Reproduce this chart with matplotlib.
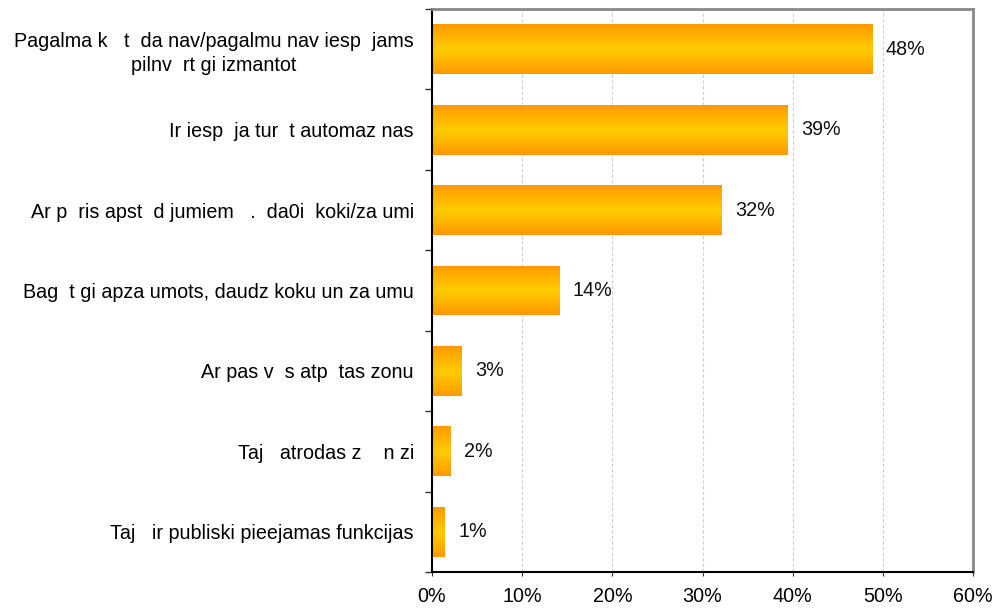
import numpy as np
import matplotlib
matplotlib.use('Agg')
import matplotlib.pyplot as plt
from matplotlib.colors import LinearSegmentedColormap

# data, top to bottom
labels = [
    'Pagalma k   t  da nav/pagalmu nav iesp  jams\npilnv  rt gi izmantot',
    'Ir iesp  ja tur  t automaz nas',
    'Ar p  ris apst  d jumiem   .  da0i  koki/za umi',
    'Bag  t gi apza umots, daudz koku un za umu',
    'Ar pas v  s atp  tas zonu',
    'Taj   atrodas z    n zi',
    'Taj   ir publiski pieejamas funkcijas',
]
values = [48.8, 39.4, 32.1, 14.1, 3.3, 2.0, 1.4]
value_labels = ['48%', '39%', '32%', '14%', '3%', '2%', '1%']
xticks = [0, 10, 20, 30, 40, 50, 60]

plt.rcParams['font.family'] = ['Liberation Sans', 'DejaVu Sans']
fs = 14.2

fig = plt.figure(figsize=(9.98, 6.09), dpi=100)
ax = fig.add_axes([432 / 998, 1 - 572 / 609, 541 / 998, 563 / 609])

ypos = np.arange(len(values))
bars = ax.barh(ypos, values, height=0.62, color='none', edgecolor='none', zorder=2)

# orange -> yellow -> orange gradient in each bar
cmap = LinearSegmentedColormap.from_list('og', ['#ff9900', '#ffcc00', '#ff9900'])
grad = np.linspace(0, 1, 256).reshape(-1, 1)
for b in bars:
    x0, y0 = b.get_x(), b.get_y()
    w, h = b.get_width(), b.get_height()
    im = ax.imshow(grad, cmap=cmap, aspect='auto', extent=[x0, x0 + w, y0 + h, y0],
                   zorder=2, interpolation='bilinear')
    im.set_clip_path(b)

for y, v, t in zip(ypos, values, value_labels):
    ax.text(v + 1.5, y, t, va='center', ha='left', fontsize=fs, color='#111111')

ax.set_xlim(0, 60)
ax.set_ylim(len(values) - 0.5, -0.5)
ax.set_xticks(xticks)
ax.set_xticklabels([f'{t}%' for t in xticks], fontsize=fs)
ax.set_yticks(ypos)
ax.set_yticklabels(labels, fontsize=fs, ha='right', multialignment='center',
                   linespacing=1.3)
ax.set_yticks(np.arange(len(values) + 1) - 0.5, minor=True)
ax.tick_params(axis='y', which='major', length=0, pad=13)
ax.tick_params(axis='y', which='minor', length=5, width=1, color='#333333')
ax.tick_params(axis='x', length=3, color='#333333', pad=8)

ax.grid(axis='x', color='#d0d0d0', linestyle=(0, (3, 2)), linewidth=0.8, zorder=0)
ax.set_axisbelow(True)

ax.spines['left'].set_color('black')
ax.spines['left'].set_linewidth(1.5)
ax.spines['bottom'].set_color('black')
ax.spines['bottom'].set_linewidth(1.5)
ax.spines['top'].set_color('#888888')
ax.spines['top'].set_linewidth(2)
ax.spines['right'].set_color('#888888')
ax.spines['right'].set_linewidth(2)

fig.savefig('out.png', dpi=100)
